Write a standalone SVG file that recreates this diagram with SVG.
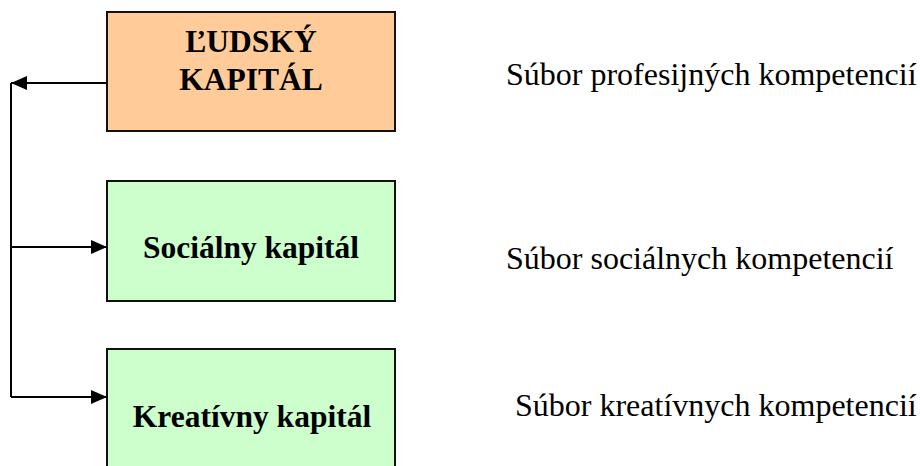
<svg xmlns="http://www.w3.org/2000/svg" width="920" height="466" viewBox="0 0 920 466">
<style>
.box{stroke:#111;stroke-width:2}
.orange{fill:#FFCC99}
.green{fill:#CCFFCC}
.bt{font-family:"Liberation Serif","Times New Roman",serif;font-weight:bold;font-size:31.5px;fill:#000;text-anchor:middle}
.rt{font-family:"Liberation Serif","Times New Roman",serif;font-size:32px;fill:#000}
.conn{stroke:#000;stroke-width:2;fill:none}
</style>
<defs>
<marker id="arr" markerWidth="17" markerHeight="14" refX="16" refY="7" orient="auto" markerUnits="userSpaceOnUse">
<path d="M0,0 L16,7 L0,14 Z" fill="#000"/>
</marker>
</defs>
<rect width="920" height="466" fill="#fff"/>
<g id="ludsky">
<rect class="box orange" x="107" y="12" width="288" height="119"/>
<text class="bt" x="251" y="52">ĽUDSKÝ</text>
<text class="bt" x="251" y="90">KAPITÁL</text>
</g>
<g id="socialny">
<rect class="box green" x="107" y="181" width="288" height="120"/>
<text class="bt" x="251" y="258">Sociálny kapitál</text>
</g>
<g id="kreativny">
<rect class="box green" x="107" y="349" width="288" height="130"/>
<text class="bt" x="252" y="427">Kreatívny kapitál</text>
</g>
<g id="labels">
<text class="rt" x="506" y="85">Súbor profesijných kompetencií</text>
<text class="rt" x="506" y="269">Súbor sociálnych kompetencií</text>
<text class="rt" x="515" y="416">Súbor kreatívnych kompetencií</text>
</g>
<g id="connectors">
<line class="conn" x1="107" y1="83" x2="11" y2="83" marker-end="url(#arr)"/>
<polyline class="conn" points="11,83 11,397"/>
<line class="conn" x1="11" y1="247" x2="107" y2="247" marker-end="url(#arr)"/>
<line class="conn" x1="11" y1="397" x2="107" y2="397" marker-end="url(#arr)"/>
</g>
</svg>
